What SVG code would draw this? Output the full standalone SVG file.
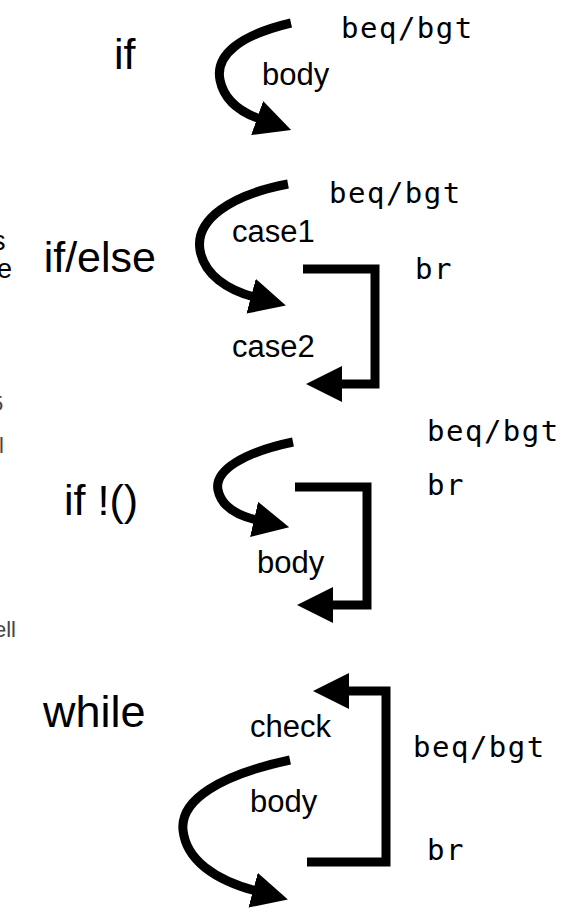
<svg xmlns="http://www.w3.org/2000/svg" width="575" height="913" viewBox="0 0 575 913">
<style>
.big{font-family:"Liberation Sans",Arial,sans-serif;font-size:43px;fill:#000}
.lbl{font-family:"Liberation Sans",Arial,sans-serif;font-size:31px;fill:#000}
.mono{font-family:"DejaVu Sans Mono","Liberation Mono",monospace;font-size:29px;fill:#000;letter-spacing:1.5px}
.cut{font-family:"Liberation Sans",Arial,sans-serif;fill:#444}
.wire{fill:none;stroke:#000;stroke-width:9}
</style>
<defs>
<marker id="ah" markerUnits="userSpaceOnUse" markerWidth="38" markerHeight="38" viewBox="0 0 38 38" refX="3" refY="18" orient="auto">
<path d="M0,0 L36,18 L0,36 z" fill="#000"/>
</marker>
</defs>
<rect width="575" height="913" fill="#fff"/>
<g id="margin-fragments">
<text class="cut" x="-8" y="250" font-size="27" style="fill:#000">s</text>
<text class="cut" x="-3" y="278" font-size="27" style="fill:#000">e</text>
<text class="cut" x="-9" y="411" font-size="22">5</text>
<text class="cut" x="-1" y="453" font-size="22">l</text>
<text class="cut" x="-6" y="637" font-size="22">ell</text>
</g>
<g id="connectors">
<path class="wire" marker-end="url(#ah)" d="M291,23 C240,35 215,55 220,80 C224,100 240,112 260,119"/>
<path class="wire" marker-end="url(#ah)" d="M288,184 C230,195 195,220 200,250 C204,275 228,290 254,297"/>
<path class="wire" marker-end="url(#ah)" d="M303,269 H375 V384 H339"/>
<path class="wire" marker-end="url(#ah)" d="M293,442 C245,452 214,470 218,490 C221,505 235,515 257,520"/>
<path class="wire" marker-end="url(#ah)" d="M295,487 H367 V605 H330"/>
<path class="wire" marker-end="url(#ah)" d="M290,760 C220,775 180,800 183,830 C186,860 215,880 256,891"/>
<path class="wire" marker-end="url(#ah)" d="M307,862 H386 V691 H346"/>
</g>
<g id="if">
<text class="big" x="114" y="69">if</text>
<text class="lbl" x="262" y="85">body</text>
<text class="mono" x="341" y="38">beq/bgt</text>
</g>
<g id="if-else">
<text class="big" x="156" y="272" text-anchor="end">if/else</text>
<text class="mono" x="329" y="203">beq/bgt</text>
<text class="lbl" x="232" y="242">case1</text>
<text class="mono" x="415" y="279">br</text>
<text class="lbl" x="232" y="357">case2</text>
</g>
<g id="if-not">
<text class="big" x="64" y="515">if !()</text>
<text class="mono" x="427" y="441">beq/bgt</text>
<text class="mono" x="427" y="495">br</text>
<text class="lbl" x="257" y="573">body</text>
</g>
<g id="while">
<text class="big" x="43" y="727" style="font-size:45px">while</text>
<text class="lbl" x="250" y="737">check</text>
<text class="mono" x="413" y="757">beq/bgt</text>
<text class="lbl" x="250" y="812">body</text>
<text class="mono" x="427" y="860">br</text>
</g>
</svg>
